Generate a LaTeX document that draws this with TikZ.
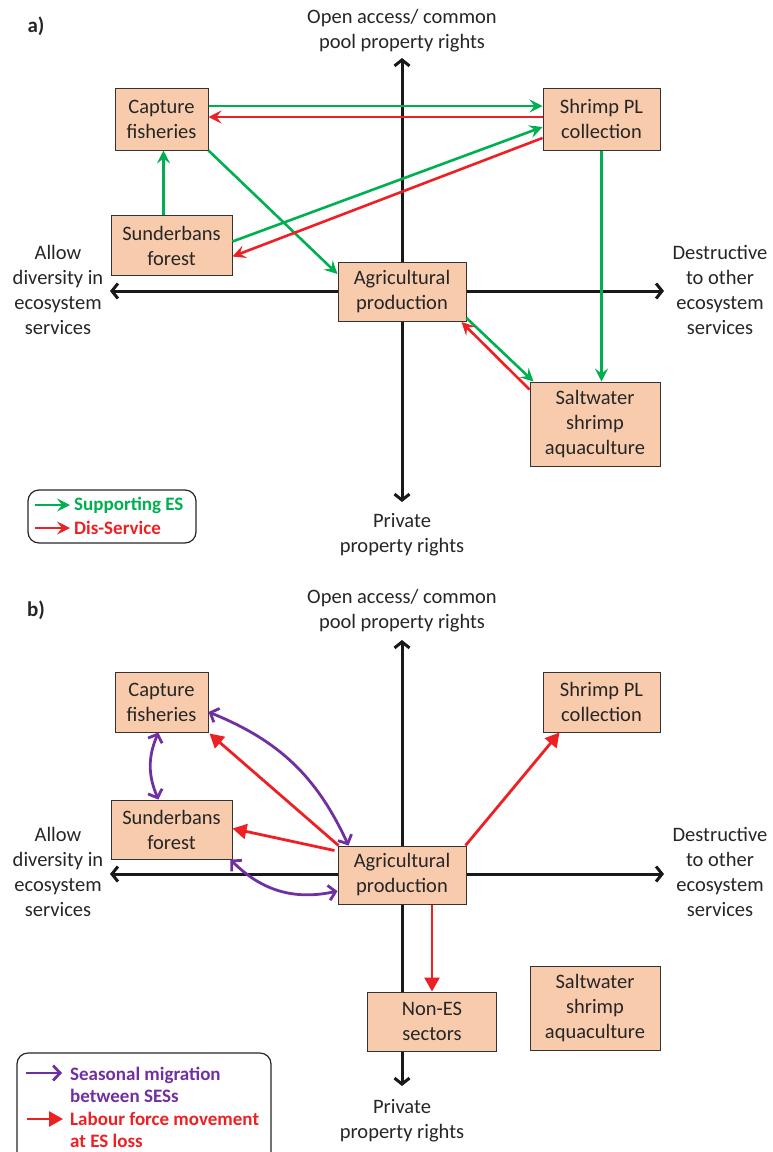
\documentclass[tikz,border=0pt]{standalone}
\usepackage{fontspec}
\setmainfont{Carlito}
\usetikzlibrary{arrows.meta,bending}
\definecolor{gr}{RGB}{0,176,80}
\definecolor{rd}{RGB}{237,32,36}
\definecolor{pu}{RGB}{112,48,160}
\definecolor{boxfill}{RGB}{248,203,173}
\definecolor{txt}{RGB}{38,38,38}
\begin{document}
\begin{tikzpicture}[x=1pt,y=-1pt,
  sbox/.style={draw=black!80, line width=1pt, fill=boxfill, align=center,
    font=\fontsize{20.5}{25}\selectfont, inner sep=0pt, text=txt},
  lab/.style={align=center, font=\fontsize{20.5}{25}\selectfont, text=txt},
  plab/.style={font=\fontsize{21}{25}\selectfont\bfseries, text=txt},
  axisline/.style={line width=3pt, black!90,
    {Straight Barb[length=6pt,width=15pt]}-{Straight Barb[length=6pt,width=15pt]}},
  garrow/.style={line width=2.6pt, gr, -{Stealth[length=13pt,width=13pt,inset=5pt]}},
  rarrow/.style={line width=2.6pt, rd, -{Stealth[length=13pt,width=13pt,inset=5pt]}},
  rfarrow/.style={line width=2.8pt, rd, -{Triangle[length=14pt,width=15pt]}},
  parrow/.style={line width=2.8pt, pu,
    {Straight Barb[length=7pt,width=15pt,bend]}-{Straight Barb[length=7pt,width=15pt,bend]}},
  legtext/.style={anchor=west, font=\fontsize{19}{22.5}\selectfont\bfseries, align=left},
  legbox/.style={draw=black!85, line width=1.2pt, rounded corners=11pt}
]
\useasboundingbox (0,0) rectangle (772,1152);

% ================= Panel a =================
\node[plab] (pa) at (36,26) {a)};
\coordinate (vtA) at (402,58);
\coordinate (vbA) at (402,502);
\coordinate (hlA) at (110,291);
\coordinate (hrA) at (664,291);
\draw[axisline] (vbA) -- (vtA);
\draw[axisline] (hlA) -- (hrA);

\node[lab] (topA) at (402,31) {Open access/ common\\pool property rights};
\node[lab] (botA) at (402,535) {Private\\property rights};
\node[lab] (leftA) at (58,290) {Allow\\diversity in\\ecosystem\\services};
\node[lab] (rightA) at (720,290) {Destructive\\to other\\ecosystem\\services};

\node[sbox, minimum width=93pt, minimum height=62pt] (cfA) at (161.5,119) {Capture\\fisheries};
\node[sbox, minimum width=117pt, minimum height=62pt] (spA) at (601.5,119) {Shrimp PL\\collection};
\node[sbox, minimum width=121pt, minimum height=60pt] (sfA) at (171.5,245.5) {Sunderbans\\forest};
\node[sbox, minimum width=128pt, minimum height=59pt] (apA) at (402,292) {Agricultural\\production};
\node[sbox, minimum width=130pt, minimum height=84pt] (swA) at (595,424) {Saltwater\\shrimp\\aquaculture};

\draw[garrow] ([yshift=13pt]cfA.east) -- ([yshift=13pt]spA.west);
\draw[rarrow] ([yshift=2pt]spA.west) -- ([yshift=2pt]cfA.east);
\draw[garrow] ([xshift=-8pt]sfA.north) -- ([xshift=-8pt]sfA.north |- cfA.south);
\draw[garrow] (cfA.south east) -- ([yshift=-12pt]apA.north west);
\draw[garrow] ([yshift=4pt]sfA.east) -- ([yshift=-8pt]spA.west);
\draw[rarrow] ([yshift=-19pt]spA.west) -- ([yshift=-11pt]sfA.east);
\draw[garrow] (spA.south) -- (spA.south |- swA.north);
\draw[garrow] ([yshift=4pt]apA.south east) -- ([xshift=4pt]swA.north west);
\draw[rarrow] ([yshift=-8pt]swA.north west) -- ([xshift=-5pt]apA.south east);

% legend a
\node[legbox, minimum width=168pt, minimum height=53pt] (legA) at (112,516.5) {};
\coordinate (lga1) at (35,505);
\coordinate (lga2) at (70,505);
\coordinate (lga3) at (35,528);
\coordinate (lga4) at (70,528);
\draw[garrow] (lga1) -- (lga2);
\draw[rarrow] (lga3) -- (lga4);
\node[legtext, text=gr, inner sep=0pt] (lta1) at (74,505) {Supporting ES};
\node[legtext, text=rd, inner sep=0pt] (lta2) at (74,528) {Dis-Service};

% ================= Panel b =================
\node[plab] (pb) at (36,610) {b)};
\coordinate (vtB) at (402,640);
\coordinate (vbB) at (402,1086);
\coordinate (hlB) at (110,874);
\coordinate (hrB) at (664,874);
\draw[axisline] (vbB) -- (vtB);
\draw[axisline] (hlB) -- (hrB);

\node[lab] (topB) at (402,611) {Open access/ common\\pool property rights};
\node[lab] (botB) at (402,1121) {Private\\property rights};
\node[lab] (leftB) at (58,872) {Allow\\diversity in\\ecosystem\\services};
\node[lab] (rightB) at (720,872) {Destructive\\to other\\ecosystem\\services};

\node[sbox, minimum width=93pt, minimum height=60pt] (cfB) at (161.5,702) {Capture\\fisheries};
\node[sbox, minimum width=117pt, minimum height=60pt] (spB) at (601.5,702) {Shrimp PL\\collection};
\node[sbox, minimum width=121pt, minimum height=59pt] (sfB) at (171.5,829.5) {Sunderbans\\forest};
\node[sbox, minimum width=128pt, minimum height=58pt] (apB) at (402,875) {Agricultural\\production};
\node[sbox, minimum width=130pt, minimum height=84pt] (swB) at (595,1008) {Saltwater\\shrimp\\aquaculture};
\node[sbox, minimum width=129pt, minimum height=59pt] (neB) at (432,1021.5) {Non-ES\\sectors};

\draw[rfarrow] ([xshift=1pt]apB.north west) -- ([xshift=1pt,yshift=-1pt]cfB.south east);
\draw[rfarrow] ([xshift=-3pt,yshift=-5pt]apB.north west) -- ([yshift=1pt]sfB.east);
\draw[rfarrow] ([xshift=-1pt]apB.north east) -- ([xshift=17pt]spB.south west);
\draw[rfarrow] ([xshift=30pt]apB.south) -- ([xshift=30pt]apB.south |- neB.north);

\draw[parrow] ([yshift=-10pt]cfB.east) to[bend left=22] ([xshift=11pt]apB.north west);
\draw[parrow] ([xshift=-3pt]cfB.south) to[bend right=25] ([xshift=-13pt]sfB.north);
\draw[parrow] ([xshift=-2pt]sfB.south east) to[bend right=30] ([yshift=-16pt]apB.west);

% legend b
\draw[legbox] (17,1170) -- (17,1053) -- (271,1053) -- (271,1170);
\coordinate (lgb1) at (26,1073);
\coordinate (lgb2) at (62,1073);
\coordinate (lgb3) at (27,1119);
\coordinate (lgb4) at (63,1119);
\draw[line width=2.8pt, pu, -{Straight Barb[length=7pt,width=15pt]}] (lgb1) -- (lgb2);
\draw[rfarrow] (lgb3) -- (lgb4);
\node[legtext, text=pu, inner sep=0pt] (ltb1) at (70,1085) {Seasonal migration\\between SESs};
\node[legtext, text=rd, inner sep=0pt] (ltb2) at (70,1130) {Labour force movement\\at ES loss};
\end{tikzpicture}
\end{document}
